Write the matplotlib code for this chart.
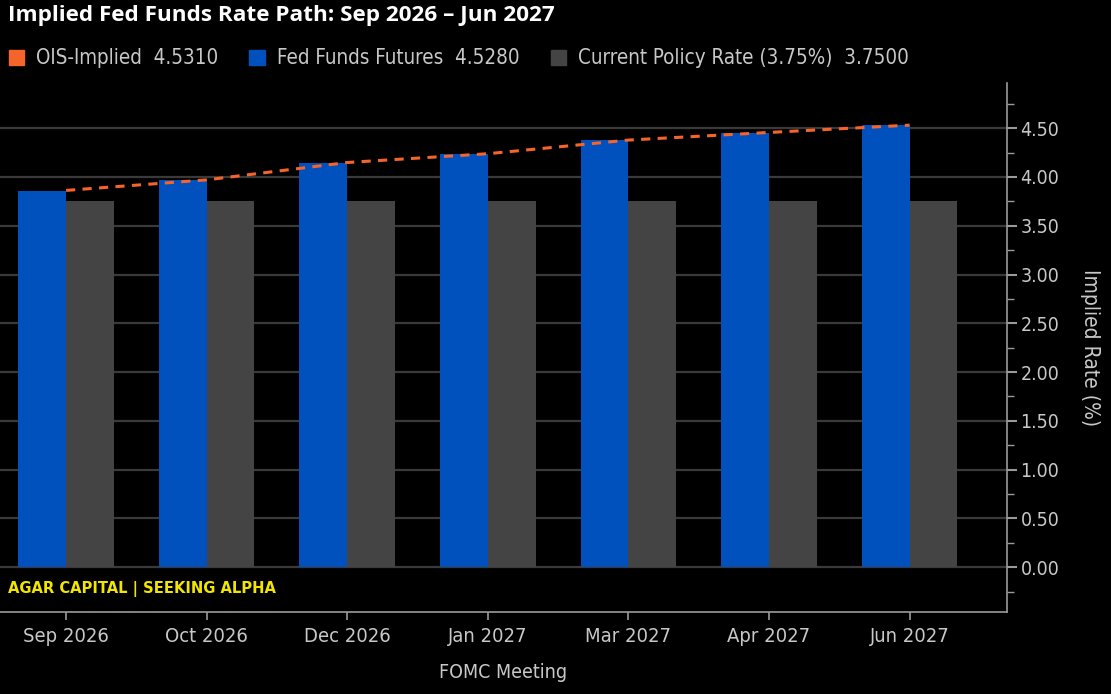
import matplotlib.pyplot as plt
from matplotlib.patches import Patch
from matplotlib.ticker import MultipleLocator, FormatStrFormatter

meetings = ["Sep 2026", "Oct 2026", "Dec 2026", "Jan 2027", "Mar 2027", "Apr 2027", "Jun 2027"]
futures = [3.858, 3.965, 4.145, 4.235, 4.375, 4.452, 4.528]
ois = [3.862, 3.970, 4.148, 4.238, 4.378, 4.456, 4.531]
policy = [3.75, 3.75, 3.75, 3.75, 3.75, 3.75, 3.75]

BLUE = "#0050be"
GREY = "#444444"
ORANGE = "#f5642a"
TXT = "#c8c8c8"
COND = dict(family="DejaVu Sans", fontstretch="condensed")

fig = plt.figure(figsize=(11.11, 6.94), dpi=100, facecolor="black")
ax = fig.add_axes([0.0, 0.118, 0.906, 0.762], facecolor="black")

x = list(range(len(meetings)))
w = 0.34
ax.bar([i - w / 2 for i in x], futures, width=w, color=BLUE, zorder=2)
ax.bar([i + w / 2 for i in x], policy, width=w, color=GREY, zorder=2)
ax.plot(x, ois, color=ORANGE, lw=2.2, dashes=(3, 2.4), zorder=3)

ax.set_xlim(-0.47, 6.69)
ax.set_ylim(-0.46, 4.96)
ax.set_axisbelow(True)
ax.yaxis.grid(True, color="#3a3a3a", lw=1.6)

for side in ["top", "left"]:
    ax.spines[side].set_visible(False)
for side in ["right", "bottom"]:
    ax.spines[side].set_color("#9a9a9a")
    ax.spines[side].set_linewidth(1.2)

ax.yaxis.tick_right()
ax.yaxis.set_label_position("right")
ax.yaxis.set_major_locator(MultipleLocator(0.5))
ax.yaxis.set_minor_locator(MultipleLocator(0.25))
ax.yaxis.set_major_formatter(FormatStrFormatter("%.2f"))
ax.tick_params(axis="y", which="major", colors="#9a9a9a", labelcolor=TXT,
               length=7, width=1.5, pad=3, labelsize=14)
ax.tick_params(axis="y", which="minor", colors="#9a9a9a", length=5, width=1)
for lbl in ax.get_yticklabels():
    lbl.set_fontstretch("condensed")

ax.set_xticks(x)
ax.set_xticklabels(meetings, fontsize=14.5, fontstretch="condensed")
ax.tick_params(axis="x", colors="#9a9a9a", labelcolor=TXT, length=6, width=1.2, pad=5)

ax.set_xlabel("FOMC Meeting", color=TXT, fontsize=14, labelpad=12, **COND)
ax.set_ylabel("Implied Rate (%)", color=TXT, fontsize=15, rotation=270,
              labelpad=29, **COND)

fig.text(0.007, 0.977, "Implied Fed Funds Rate Path: Sep 2026 \u2013 Jun 2027",
         color="white", fontsize=16.2, fontweight="bold", family="Open Sans",
         va="center", ha="left")

handles = [
    Patch(facecolor=ORANGE, edgecolor=ORANGE),
    Patch(facecolor=BLUE, edgecolor=BLUE),
    Patch(facecolor=GREY, edgecolor=GREY),
]
labels = [
    f"OIS-Implied  {ois[-1]:.4f}",
    f"Fed Funds Futures  {futures[-1]:.4f}",
    f"Current Policy Rate (3.75%)  {policy[-1]:.4f}",
]
leg = fig.legend(handles, labels, loc="center left", bbox_to_anchor=(-0.009, 0.916),
                 ncol=3, frameon=False, handlelength=0.75,
                 handleheight=0.75, handletextpad=0.6, columnspacing=1.5,
                 prop=dict(family="DejaVu Sans", stretch="condensed", size=14.8))
for t in leg.get_texts():
    t.set_color(TXT)

fig.text(0.007, 1 - 589 / 694, "AGAR CAPITAL | SEEKING ALPHA", color="#f2e600",
         fontsize=11.8, fontweight="bold", va="center", ha="left", **COND)

fig.savefig("out.png", dpi=100, facecolor="black")
